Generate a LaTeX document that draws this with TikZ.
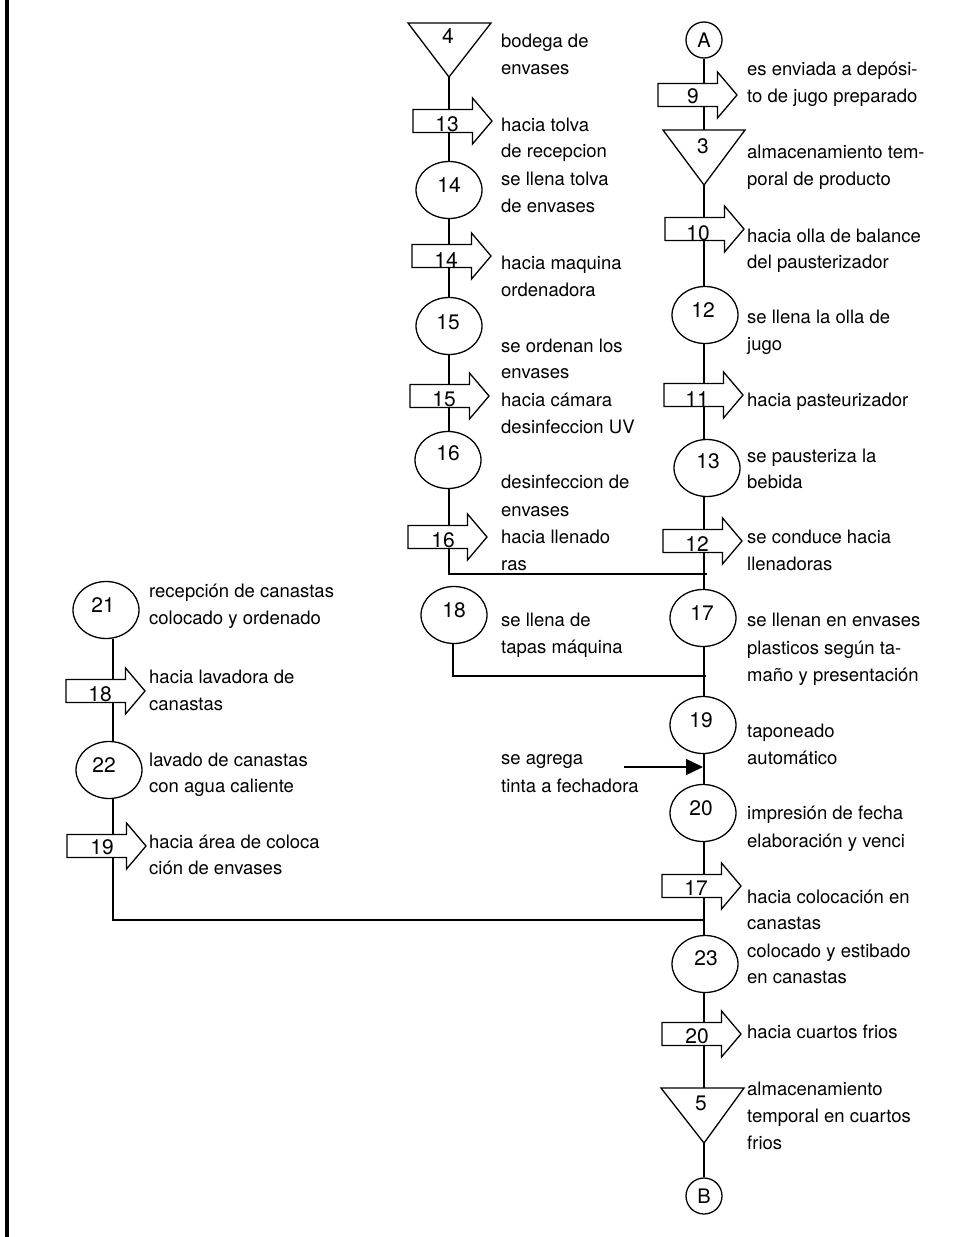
\documentclass[tikz,border=0pt]{standalone}
\usepackage{fontspec}
\setmainfont{TeX Gyre Heros}
\usetikzlibrary{shapes.geometric,arrows.meta,backgrounds}
\begin{document}
\begin{tikzpicture}[x=1pt,y=-1pt,
  flow/.style={line width=1.3pt},
  oper/.style={draw, line width=1.3pt, ellipse, minimum width=66pt, minimum height=57pt, inner sep=0pt},
  conn/.style={draw, line width=1.3pt, circle, minimum size=36pt, inner sep=0pt, font=\fontsize{20}{22}\selectfont},
  num/.style={anchor=base, inner sep=0pt, font=\fontsize{21}{24}\selectfont},
  txt/.style={anchor=base west, inner sep=0pt, font=\fontsize{18.5}{22}\selectfont},
  flowarrow/.pic={\filldraw[fill=white, line width=1.3pt] (0,-11.5) -- (59.5,-11.5) -- (59.5,-23) -- (79,0) -- (59.5,23) -- (59.5,11.5) -- (0,11.5) -- cycle;},
  storage/.style={draw, line width=1.3pt, line join=miter},
]
\useasboundingbox (0,0) rectangle (973,1237);

% left margin rule
\coordinate (ruleTop) at (7,0);
\coordinate (ruleBot) at (7,1237);
\draw[line width=4pt] (ruleTop) -- (ruleBot);

% column axes
\coordinate (colL) at (113,0);
\coordinate (colM) at (449,0);
\coordinate (colR) at (704,0);

% ---------------- middle column: envases ----------------
\draw[storage] (408,23) -- (491,23) -- (449,77) -- cycle;
\coordinate (t4apex) at (449,77);
\node[num] (n4) at (448,43) {4};
\node[txt] (m1a) at (501,47) {bodega de};
\node[txt] (m1b) at (501,74) {envases};

\pic (a13) at (413,121) {flowarrow};
\node[num] (n13a) at (447,131) {13};
\node[txt] (m2a) at (501,131) {hacia tolva};
\node[txt] (m2b) at (501,157) {de recepcion};

\node[oper] (e14) at (449,190) {};
\node[num] (n14) at (449,192) {14};
\node[txt] (m3a) at (501,185) {se llena tolva};
\node[txt] (m3b) at (501,212) {de envases};

\pic (a14) at (412,256) {flowarrow};
\node[num] (n14a) at (446,267) {14};
\node[txt] (m4a) at (501,269) {hacia maquina};
\node[txt] (m4b) at (501,296) {ordenadora};

\node[oper] (e15) at (449,326) {};
\node[num] (n15) at (448,329) {15};
\node[txt] (m5a) at (501,352) {se ordenan los};
\node[txt] (m5b) at (501,378) {envases};

\pic (a15) at (410,396) {flowarrow};
\node[num] (n15a) at (444,406) {15};
\node[txt] (m6a) at (501,406) {hacia cámara};
\node[txt] (m6b) at (501,433) {desinfeccion UV};

\node[oper] (e16) at (448,460) {};
\node[num] (n16) at (448,460) {16};
\node[txt] (m7a) at (501,488) {desinfeccion de};
\node[txt] (m7b) at (501,516) {envases};

\pic (a16) at (408,537) {flowarrow};
\node[num] (n16a) at (443,547) {16};
\node[txt] (m8a) at (501,543) {hacia llenado};
\node[txt] (m8b) at (501,570) {ras};

\node[oper] (e18) at (454,615) {};
\node[num] (n18) at (454,617) {18};
\node[txt] (m9a) at (501,626) {se llena de};
\node[txt] (m9b) at (501,653) {tapas máquina};

\node[txt] (m10a) at (501,764) {se agrega};
\node[txt] (m10b) at (501,792) {tinta a fechadora};

% ---------------- right column: jugo ----------------
\node[conn] (A) at (704,40) {A};

\pic (a9) at (658,95) {flowarrow};
\node[num] (n9) at (693,103) {9};
\node[txt] (r1a) at (747,75) {es enviada a depósi-};
\node[txt] (r1b) at (747,102) {to de jugo preparado};

\draw[storage] (663,130) -- (745,130) -- (704,185) -- cycle;
\coordinate (t3top) at (704,130);
\coordinate (t3apex) at (704,185);
\node[num] (n3) at (703,153) {3};
\node[txt] (r2a) at (747,158) {almacenamiento tem-};
\node[txt] (r2b) at (747,185) {poral de producto};

\pic (a10) at (665,229) {flowarrow};
\node[num] (n10) at (698,240) {10};
\node[txt] (r3a) at (747,242) {hacia olla de balance};
\node[txt] (r3b) at (747,268) {del pausterizador};

\node[oper] (e12) at (705,315) {};
\node[num] (n12) at (703,317) {12};
\node[txt] (r4a) at (747,323) {se llena la olla de};
\node[txt] (r4b) at (747,350) {jugo};

\pic (a11) at (664,395) {flowarrow};
\node[num] (n11) at (697,406) {11};
\node[txt] (r5a) at (747,406) {hacia pasteurizador};

\node[oper] (e13) at (707,468) {};
\node[num] (n13) at (708,468) {13};
\node[txt] (r6a) at (747,462) {se pausteriza la};
\node[txt] (r6b) at (747,488) {bebida};

\pic (a12) at (663,541) {flowarrow};
\node[num] (n12a) at (697,551) {12};
\node[txt] (r7a) at (747,543) {se conduce hacia};
\node[txt] (r7b) at (747,570) {llenadoras};

\node[oper] (e17) at (703,618) {};
\node[num] (n17) at (702,620) {17};
\node[txt] (r8a) at (747,626) {se llenan en envases};
\node[txt] (r8b) at (747,654) {plasticos según ta-};
\node[txt] (r8c) at (747,681) {maño y presentación};

\node[oper] (e19) at (703,725) {};
\node[num] (n19) at (701,727) {19};
\node[txt] (r9a) at (747,737) {taponeado};
\node[txt] (r9b) at (747,764) {automático};

\node[oper] (e20) at (703,813) {};
\node[num] (n20) at (701,815) {20};
\node[txt] (r10a) at (747,819) {impresión de fecha};
\node[txt] (r10b) at (747,847) {elaboración y venci};

\pic (a17) at (662,886) {flowarrow};
\node[num] (n17a) at (696,895) {17};
\node[txt] (r11a) at (747,903) {hacia colocación en};
\node[txt] (r11b) at (747,929) {canastas};

\node[oper] (e23) at (705,964) {};
\node[num] (n23) at (706,965) {23};
\node[txt] (r12a) at (747,957) {colocado y estibado};
\node[txt] (r12b) at (747,983) {en canastas};

\pic (a20) at (662,1034) {flowarrow};
\node[num] (n20a) at (697,1043) {20};
\node[txt] (r13a) at (747,1038) {hacia cuartos frios};

\draw[storage] (661,1088) -- (744,1088) -- (704,1143) -- cycle;
\coordinate (t5top) at (704,1088);
\coordinate (t5apex) at (704,1143);
\node[num] (n5) at (701,1110) {5};
\node[txt] (r14a) at (747,1095) {almacenamiento};
\node[txt] (r14b) at (747,1122) {temporal en cuartos};
\node[txt] (r14c) at (747,1149) {frios};

\node[conn] (B) at (704,1196) {B};

% ---------------- left column: canastas ----------------
\node[oper] (e21) at (106,610) {};
\node[num] (n21) at (103,612) {21};
\node[txt] (l1a) at (149,597) {recepción de canastas};
\node[txt] (l1b) at (149,624) {colocado y ordenado};

\pic (a18) at (66,691) {flowarrow};
\node[num] (n18a) at (100,701) {18};
\node[txt] (l2a) at (149,683) {hacia lavadora de};
\node[txt] (l2b) at (149,710) {canastas};

\node[oper] (e22) at (109,770) {};
\node[num] (n22) at (104,772) {22};
\node[txt] (l3a) at (149,766) {lavado de canastas};
\node[txt] (l3b) at (149,792) {con agua caliente};

\pic (a19) at (67,846) {flowarrow};
\node[num] (n19a) at (102,854) {19};
\node[txt] (l4a) at (149,848) {hacia área de coloca};
\node[txt] (l4b) at (149,874) {ción de envases};

% ---------------- junctions ----------------
\coordinate (j1) at (707,574);
\coordinate (j2) at (706,676);
\coordinate (j3) at (704,920);
\coordinate (tintaA) at (624,767);
\coordinate (tintaB) at (703,767);

% ---------------- connectors (behind the transport arrows) ----------------
\begin{scope}[on background layer]
% middle
\draw[flow] (t4apex) -- (e14.north -| colM);
\draw[flow] (e14.south -| colM) -- (e15.north -| colM);
\draw[flow] (e15.south -| colM) -- (e16.north -| colM);
\draw[flow] (e16.south -| colM) |- (j1);
\draw[flow] (e18.south -| 453,0) |- (j2);
% right
\draw[flow] (A.south) -- (t3top);
\draw[flow] (t3apex) -- (e12.north -| colR);
\draw[flow] (e12.south -| colR) -- (e13.north -| colR);
\draw[flow] (e13.south -| colR) -- (e17.north -| colR);
\draw[flow] (e17.south -| colR) -- (e19.north -| colR);
\draw[flow] (e19.south -| colR) -- (e20.north -| colR);
\draw[flow] (e20.south -| colR) -- (e23.north -| colR);
\draw[flow] (e23.south -| colR) -- (t5top);
\draw[flow] (t5apex) -- (B.north);
% left
\draw[flow] (e21.south -| colL) -- (e22.north -| colL);
\draw[flow] (e22.south -| colL) |- (j3);
\end{scope}
% ink feed
\draw[flow, -{Triangle[length=17pt,width=16pt]}] (tintaA) -- (tintaB);
\end{tikzpicture}
\end{document}
